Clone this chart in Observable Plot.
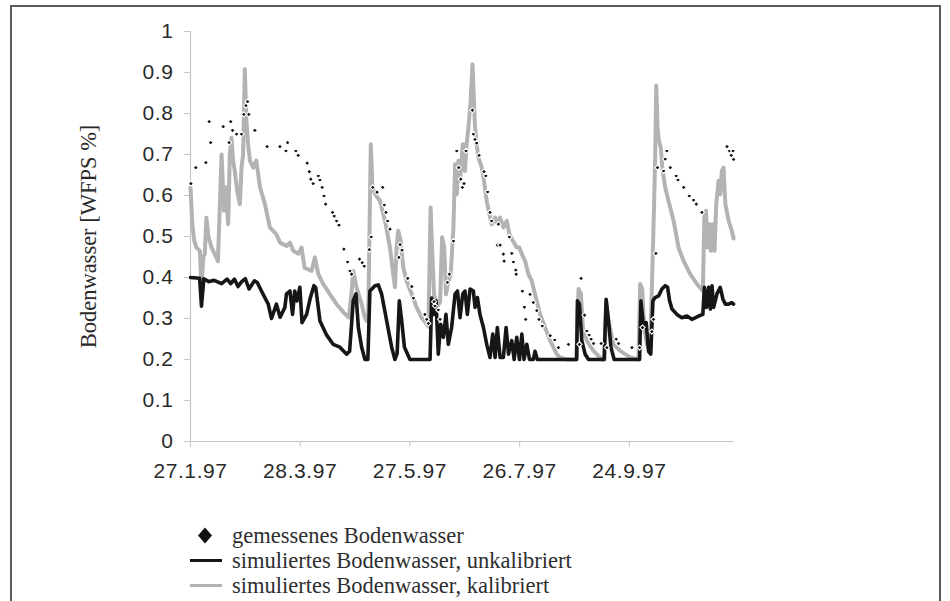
<!DOCTYPE html>
<html>
<head>
<meta charset="utf-8">
<script src="https://cdn.jsdelivr.net/npm/d3@7"></script>
<script src="https://cdn.jsdelivr.net/npm/@observablehq/plot@0.6"></script>
<style>
  body { margin: 0; background: #fff; }
  #wrap { position: relative; width: 950px; height: 601px; overflow: hidden; background: #fff; }
  #frame { position: absolute; left: 10px; top: 5px; width: 931px; height: 640px; border: 2px solid #5c5c5c; box-sizing: border-box; pointer-events: none; }
  #chart { position: absolute; left: 0; top: 0; }
  #chart g[aria-label="x-axis tick label"] text,
  #chart g[aria-label="y-axis tick label"] text { letter-spacing: 0.6px; }
  #legend { position: absolute; left: 190px; top: 523px; font-family: "Liberation Serif", serif; font-size: 22.5px; color: #2e2e2e; line-height: 25px; }
  #legend .row { display: flex; align-items: center; height: 25px; white-space: nowrap; }
  #legend .key { width: 32px; height: 25px; margin-right: 10px; flex: none; }
</style>
</head>
<body>
<div id="wrap">
  <div id="chart"></div>
  <div id="frame"></div>
  <div id="legend"></div>
</div>
<script>
// Soil water (WFPS) 1997, day offsets counted from 27.1.97
const startDate = new Date(Date.UTC(1997, 0, 27));
const lastDay = 297.5;

// measured soil water
const measDay = [0.2, 2.9, 8.4, 10.2, 11, 17.9, 21.1, 22, 23, 25.2, 27.9, 29.2, 30.3, 31.2, 31.9, 35.2, 41.9, 48.9, 52.2, 53.1, 57.6, 58.9, 63.8, 65, 65.8, 67.1, 69.9, 70.8, 72, 73, 73.9, 77.7, 78.6, 79.9, 81.2, 83.9, 85.9, 87.2, 88.1, 92.4, 93.9, 95, 97.8, 98.8, 99.7, 102, 105.1, 106, 106.9, 107.8, 109.1, 114, 114.6, 115.7, 118.8, 121, 121.9, 128.2, 129.2, 130.1, 133.2, 133.7, 135.5, 136.5, 140.5, 141.6, 143.8, 145.6, 146.7, 147.8, 148.7, 149.6, 150.7, 154.2, 154.7, 155.6, 156.5, 157.8, 160.5, 161.5, 162.5, 163.8, 164.7, 167.8, 168.4, 169.3, 171.1, 171.5, 174.4, 175.7, 176.6, 177.9, 178.1, 181.5, 182.6, 183.3, 185.7, 187.5, 189.4, 190.6, 192.4, 196.7, 199.2, 201.2, 206.7, 212.7, 213.6, 215.5, 216.7, 218, 219.1, 220.4, 224.6, 227.7, 232.8, 234.1, 241.4, 245.6, 247.2, 252.3, 253.2, 254.5, 255.4, 258.7, 259.6, 260.5, 262.4, 265.6, 266.6, 269.7, 272.8, 275.1, 276.6, 279.7, 293.4, 294.8, 295.7, 296.7, 297];
const measWfps = [0.629, 0.668, 0.68, 0.78, 0.729, 0.768, 0.729, 0.78, 0.759, 0.75, 0.75, 0.798, 0.819, 0.829, 0.798, 0.759, 0.719, 0.719, 0.709, 0.729, 0.709, 0.698, 0.679, 0.658, 0.64, 0.629, 0.648, 0.638, 0.62, 0.599, 0.579, 0.559, 0.55, 0.538, 0.528, 0.469, 0.438, 0.416, 0.408, 0.445, 0.436, 0.428, 0.468, 0.499, 0.62, 0.608, 0.62, 0.577, 0.559, 0.538, 0.518, 0.449, 0.48, 0.467, 0.398, 0.378, 0.35, 0.31, 0.298, 0.288, 0.341, 0.331, 0.321, 0.298, 0.388, 0.408, 0.489, 0.709, 0.668, 0.64, 0.62, 0.629, 0.709, 0.808, 0.75, 0.737, 0.728, 0.698, 0.658, 0.648, 0.609, 0.559, 0.538, 0.479, 0.53, 0.479, 0.457, 0.44, 0.499, 0.459, 0.438, 0.418, 0.408, 0.367, 0.328, 0.298, 0.359, 0.339, 0.319, 0.298, 0.282, 0.258, 0.248, 0.229, 0.237, 0.237, 0.398, 0.308, 0.27, 0.26, 0.25, 0.239, 0.239, 0.229, 0.25, 0.239, 0.229, 0.229, 0.278, 0.268, 0.298, 0.459, 0.668, 0.66, 0.689, 0.709, 0.668, 0.648, 0.638, 0.62, 0.599, 0.589, 0.579, 0.559, 0.719, 0.709, 0.698, 0.709, 0.688];

// simulated soil water, uncalibrated
const uncalDay = [0, 5, 6, 7.3, 10, 13, 17, 20, 22, 24, 26, 28, 30, 32, 35, 36.5, 38.8, 42.5, 44.3, 47, 49, 51.6, 52.5, 54.4, 55.8, 57, 58.2, 59.8, 61, 63.5, 65.5, 67.5, 68.5, 70.8, 74.4, 78, 81.7, 85.4, 87, 89, 90.5, 91.8, 93.6, 95.4, 97, 98.1, 100.9, 102.7, 104.5, 107.3, 110, 111.8, 113, 114.2, 115.5, 117, 120, 131, 131.9, 133.2, 134.3, 135.5, 136.8, 138.3, 139.7, 141, 142.8, 144.7, 146, 147.4, 148.9, 150.1, 151.4, 152.9, 154.7, 155.6, 156.9, 158.3, 160.2, 162, 163.8, 165.3, 166.6, 167.8, 169.3, 171.1, 172.6, 173.9, 175.7, 177, 178.4, 179.9, 181.2, 182.4, 183.9, 185.4, 187.5, 188.4, 189.7, 211.2, 211.6, 212.7, 214, 215.8, 217.7, 226.2, 227.3, 228.6, 229.9, 231.7, 245.6, 246.3, 247.8, 249.2, 250.5, 251.7, 252.9, 254.1, 256, 257.8, 259.6, 260.9, 262, 263.3, 266, 268.7, 271.5, 274.2, 277.9, 280.2, 281, 282.1, 283.3, 284.3, 285.2, 286.1, 287.9, 289.7, 291.2, 292.5, 294.3, 296, 297];
const uncalWfps = [0.40, 0.398, 0.33, 0.397, 0.39, 0.393, 0.385, 0.396, 0.385, 0.396, 0.378, 0.39, 0.397, 0.372, 0.392, 0.388, 0.367, 0.335, 0.30, 0.335, 0.303, 0.327, 0.36, 0.367, 0.31, 0.367, 0.343, 0.376, 0.29, 0.31, 0.35, 0.38, 0.375, 0.294, 0.26, 0.237, 0.23, 0.213, 0.22, 0.343, 0.36, 0.278, 0.23, 0.20, 0.20, 0.367, 0.38, 0.382, 0.36, 0.294, 0.23, 0.20, 0.215, 0.343, 0.294, 0.23, 0.20, 0.20, 0.35, 0.31, 0.343, 0.213, 0.286, 0.254, 0.31, 0.237, 0.278, 0.36, 0.367, 0.302, 0.36, 0.367, 0.31, 0.372, 0.367, 0.327, 0.351, 0.31, 0.278, 0.237, 0.205, 0.262, 0.205, 0.278, 0.205, 0.205, 0.278, 0.213, 0.246, 0.20, 0.254, 0.20, 0.262, 0.20, 0.237, 0.20, 0.20, 0.22, 0.20, 0.20, 0.343, 0.335, 0.246, 0.213, 0.20, 0.20, 0.347, 0.294, 0.23, 0.20, 0.20, 0.343, 0.278, 0.29, 0.22, 0.213, 0.343, 0.351, 0.355, 0.372, 0.38, 0.376, 0.343, 0.323, 0.31, 0.302, 0.306, 0.298, 0.306, 0.31, 0.376, 0.327, 0.376, 0.323, 0.38, 0.327, 0.36, 0.376, 0.347, 0.335, 0.335, 0.339, 0.335];

// simulated soil water, calibrated
const calDay = [0, 1, 2, 3.3, 5.1, 6, 7, 7.8, 8.7, 9.8, 11.5, 13.3, 15, 17, 18.3, 19.3, 20.6, 21.5, 22.4, 23.3, 24.2, 25.5, 27, 27.9, 28.8, 29.7, 30.6, 31.5, 32.5, 34.3, 36, 38, 40.7, 43.4, 46, 47, 49, 52.5, 54.4, 56.2, 59, 60.7, 62.4, 66.2, 68, 69.9, 72.6, 76.3, 79.9, 83.6, 86.6, 88, 89, 90.8, 93.6, 95.4, 96.3, 97.2, 98.6, 99.5, 101, 103.6, 106.4, 109.1, 110.9, 111.8, 112.7, 113.6, 114.9, 116.4, 118.2, 121, 123.7, 126.4, 129.2, 130.1, 131.3, 132.4, 133.2, 134.6, 136.5, 137.6, 138.7, 139.7, 141, 142.3, 143.8, 144.7, 145.6, 146.5, 147.4, 148.9, 150.1, 151, 152, 153.2, 154.2, 155.6, 156.5, 157.4, 159.3, 160.5, 162, 163.5, 164.7, 166.6, 167.8, 169.3, 171.1, 173, 174.4, 176.2, 178.4, 179.9, 181.2, 183, 184.8, 186.6, 188.4, 191.2, 193.9, 196.7, 200.3, 202, 205.8, 210.9, 212.2, 213.5, 214.6, 216.7, 220.4, 225, 226.5, 227.3, 228.6, 231.3, 235, 240.5, 245, 245.9, 247, 248.1, 249.6, 251.4, 253.2, 254.1, 254.7, 255.4, 256.2, 257.2, 258, 259.6, 261.4, 264.2, 266.9, 269.7, 273.3, 277, 280.2, 281, 281.9, 282.8, 283.9, 284.6, 285.7, 286.6, 287.5, 288.8, 289.7, 290.6, 291.5, 292.5, 294.3, 296, 297];
const calWfps = [0.62, 0.53, 0.49, 0.473, 0.465, 0.38, 0.45, 0.457, 0.546, 0.50, 0.473, 0.457, 0.44, 0.70, 0.563, 0.62, 0.53, 0.70, 0.741, 0.685, 0.66, 0.612, 0.579, 0.668, 0.70, 0.908, 0.782, 0.725, 0.685, 0.668, 0.685, 0.62, 0.579, 0.522, 0.51, 0.505, 0.485, 0.477, 0.485, 0.465, 0.458, 0.473, 0.424, 0.416, 0.449, 0.408, 0.384, 0.359, 0.335, 0.315, 0.302, 0.359, 0.416, 0.376, 0.335, 0.302, 0.294, 0.30, 0.725, 0.62, 0.603, 0.587, 0.538, 0.473, 0.408, 0.376, 0.473, 0.514, 0.49, 0.424, 0.392, 0.359, 0.327, 0.302, 0.286, 0.28, 0.571, 0.44, 0.359, 0.327, 0.34, 0.498, 0.475, 0.359, 0.39, 0.408, 0.522, 0.676, 0.603, 0.685, 0.636, 0.725, 0.66, 0.725, 0.766, 0.83, 0.92, 0.766, 0.725, 0.693, 0.668, 0.636, 0.587, 0.554, 0.53, 0.546, 0.53, 0.546, 0.522, 0.538, 0.506, 0.49, 0.473, 0.473, 0.457, 0.44, 0.408, 0.392, 0.359, 0.31, 0.278, 0.246, 0.213, 0.205, 0.20, 0.20, 0.372, 0.36, 0.278, 0.246, 0.221, 0.20, 0.20, 0.34, 0.294, 0.237, 0.221, 0.205, 0.20, 0.384, 0.372, 0.278, 0.237, 0.221, 0.522, 0.685, 0.868, 0.766, 0.733, 0.717, 0.668, 0.62, 0.587, 0.538, 0.473, 0.44, 0.408, 0.384, 0.367, 0.546, 0.563, 0.473, 0.53, 0.465, 0.53, 0.465, 0.579, 0.636, 0.603, 0.66, 0.668, 0.579, 0.538, 0.514, 0.495];

// axis ticks
const xTickDay = [0, 60, 120, 180, 240];
const yTicks = [0, 0.1, 0.2, 0.3, 0.4, 0.5, 0.6, 0.7, 0.8, 0.9, 1];

const yTitle = "Bodenwasser [WFPS %]";
const legendLabels = [
  "gemessenes Bodenwasser",
  "simuliertes Bodenwasser, unkalibriert",
  "simuliertes Bodenwasser, kalibriert"
];

const toDate = (d) => new Date(+startDate + d * 864e5);
const series = (days, vals) => days.map((d, i) => ({date: toDate(d), wfps: vals[i]}));

const measured = series(measDay, measWfps);
const uncal = series(uncalDay, uncalWfps);
const cal = series(calDay, calWfps);

const axisGrey = "#c6c6c6";
const textCol = "#2a2a2a";

const chart = Plot.plot({
  width: 950,
  height: 601,
  marginLeft: 190,
  marginRight: 216,
  marginTop: 31,
  marginBottom: 160,
  style: {fontFamily: "'Liberation Sans', Arial, sans-serif", fontSize: "21px", background: "transparent", color: textCol},
  x: {type: "utc", domain: [toDate(0), toDate(lastDay)]},
  y: {domain: [0, 1]},
  marks: [
    Plot.ruleY([0], {stroke: axisGrey, strokeWidth: 1.2}),
    Plot.ruleX([toDate(0)], {stroke: axisGrey, strokeWidth: 1.2}),
    Plot.axisX(xTickDay.map(toDate), {
      tickFormat: d3.utcFormat("%-d.%-m.%y"),
      tickSize: 6, tickPadding: 16, stroke: axisGrey, fill: textCol, label: null
    }),
    Plot.axisY(yTicks, {
      tickFormat: (d) => String(d),
      tickSize: 6, tickPadding: 11, stroke: axisGrey, fill: textCol, label: null
    }),
    Plot.text([yTitle], {
      frameAnchor: "left", dx: -102, rotate: -90, textAnchor: "middle",
      fontFamily: "'Liberation Serif', serif", fontSize: 22.5, fill: textCol
    }),
    Plot.line(cal, {x: "date", y: "wfps", stroke: "#b3b3b3", strokeWidth: 4, strokeLinejoin: "round"}),
    Plot.line(uncal, {x: "date", y: "wfps", stroke: "#161616", strokeWidth: 3.6, strokeLinejoin: "round"}),
    Plot.dot(measured, {x: "date", y: "wfps", symbol: "diamond2", r: 2.3, fill: "#111", stroke: "#fff", strokeWidth: 1.1})
  ]
});
document.getElementById("chart").appendChild(chart);

// legend below the plot
const keys = [
  `<svg class="key" viewBox="0 0 32 25"><polygon points="15,4.5 22,12.5 15,20.5 8,12.5" fill="#111"/></svg>`,
  `<svg class="key" viewBox="0 0 32 25"><line x1="0" x2="32" y1="12.5" y2="12.5" stroke="#161616" stroke-width="3"/></svg>`,
  `<svg class="key" viewBox="0 0 32 25"><line x1="0" x2="32" y1="12.5" y2="12.5" stroke="#b3b3b3" stroke-width="3"/></svg>`
];
document.getElementById("legend").innerHTML = legendLabels
  .map((t, i) => `<div class="row">${keys[i]}<span>${t}</span></div>`)
  .join("");
</script>
</body>
</html>
